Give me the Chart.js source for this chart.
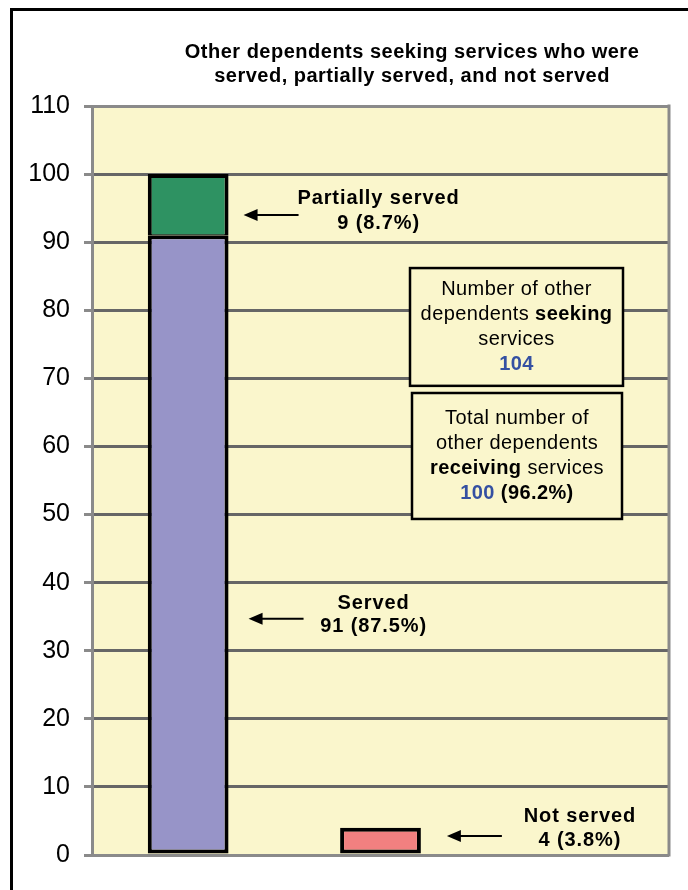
<!DOCTYPE html>
<html>
<head>
<meta charset="utf-8">
<script src="https://cdn.jsdelivr.net/npm/chart.js@4.4.1/dist/chart.umd.min.js"></script>
<style>
  html, body { margin: 0; padding: 0; background: #fff; }
  #frame { position: absolute; left: 10px; top: 8px; width: 720px; height: 920px; border-left: 3px solid #000; border-top: 3px solid #000; }
  #wrap { position: absolute; left: 0; top: 0; width: 688px; height: 890px; }
</style>
</head>
<body>
<div id="frame"></div>
<div id="wrap"><canvas id="chart"></canvas></div>
<script>
// Datos del gráfico
const categories = ['Served / partially served', 'Not served', ''];
const servedValues = [91, null, null];
const partialValues = [9, null, null];
const notServedValues = [null, 4, null];
const yTicks = [0, 10, 20, 30, 40, 50, 60, 70, 80, 90, 100, 110];

const titleLines = [
  'Other dependents seeking services who were',
  'served, partially served, and not served'
];

// Llamadas con flecha: [dataset, índice], valor donde apunta la flecha
const calloutLines = [
  ['Partially served', '9 (8.7%)'],
  ['Served', '91 (87.5%)'],
  ['Not served', '4 (3.8%)']
];
const calloutBars = [[1, 0], [0, 0], [2, 1]];
const calloutValues = [94, 34.7, 2.8];

const seekingTotal = '104';
const receivingTotal = '100';
const receivingPct = '(96.2%)';

// Cajas de texto (rango en valores del eje y)
const boxRanges = [[86.2, 68.9], [67.85, 49.35]];

const COL_BG = '#faf6cc';
const COL_BLUE = '#3450a2';
const FONT = '"Liberation Sans", Arial, sans-serif';

function drawArrow(ctx, xTail, xHead, y) {
  ctx.save();
  ctx.strokeStyle = '#000';
  ctx.fillStyle = '#000';
  ctx.lineWidth = 2;
  ctx.beginPath();
  ctx.moveTo(xTail, y);
  ctx.lineTo(xHead + 10, y);
  ctx.stroke();
  ctx.beginPath();
  ctx.moveTo(xHead, y);
  ctx.lineTo(xHead + 14, y - 6);
  ctx.lineTo(xHead + 14, y + 6);
  ctx.closePath();
  ctx.fill();
  ctx.restore();
}

// Dibuja una línea con segmentos de distinto estilo, centrada en x
function drawRich(ctx, segments, cx, y) {
  let total = 0;
  segments.forEach(s => {
    ctx.font = (s.bold ? 'bold ' : '') + '20px ' + FONT;
    s.w = ctx.measureText(s.t).width;
    total += s.w;
  });
  let x = cx - total / 2;
  segments.forEach(s => {
    ctx.font = (s.bold ? 'bold ' : '') + '20px ' + FONT;
    ctx.fillStyle = s.color || '#000';
    ctx.fillText(s.t, x, y);
    x += s.w;
  });
}

const decorPlugin = {
  id: 'decor',
  beforeDraw(chart) {
    const { ctx, chartArea } = chart;
    ctx.save();
    ctx.fillStyle = COL_BG;
    ctx.fillRect(chartArea.left, chartArea.top, chartArea.right - chartArea.left, chartArea.bottom - chartArea.top);
    ctx.restore();
  },
  afterDraw(chart) {
    const { ctx, chartArea } = chart;
    const y = chart.scales.y;

    // borde derecho del área
    ctx.save();
    ctx.strokeStyle = '#8a8a8a';
    ctx.lineWidth = 3;
    ctx.beginPath();
    ctx.moveTo(chartArea.right, chartArea.top - 1.5);
    ctx.lineTo(chartArea.right, chartArea.bottom + 1.5);
    ctx.stroke();
    ctx.restore();

    ctx.save();
    ctx.textAlign = 'center';
    ctx.textBaseline = 'middle';
    ctx.letterSpacing = '0.5px';

    // Título
    ctx.fillStyle = '#000';
    ctx.font = 'bold 20px ' + FONT;
    const titleX = chartArea.left + 320;
    titleLines.forEach((line, i) => {
      ctx.fillText(line, titleX, 52 + i * 24);
    });

    // Llamadas
    const gaps = [15, 20, 26];
    const textOffsets = [80, 70, 78];
    const dy = [[-16, 9], [-15, 8], [-19, 5]];
    ctx.letterSpacing = '0.9px';
    calloutLines.forEach((lines, i) => {
      const bar = chart.getDatasetMeta(calloutBars[i][0]).data[calloutBars[i][1]];
      const ay = y.getPixelForValue(calloutValues[i]);
      const head = bar.x + bar.width / 2 + gaps[i];
      const tail = head + 55;
      drawArrow(ctx, tail, head, ay);
      ctx.fillStyle = '#000';
      ctx.font = 'bold 20px ' + FONT;
      ctx.fillText(lines[0], tail + textOffsets[i], ay + dy[i][0]);
      ctx.fillText(lines[1], tail + textOffsets[i], ay + dy[i][1]);
    });

    // Cajas
    const boxX = [[chartArea.left + 318, chartArea.left + 531], [chartArea.left + 320, chartArea.left + 530]];
    const boxText = [
      [
        [{ t: 'Number of other' }],
        [{ t: 'dependents ' }, { t: 'seeking', bold: true }],
        [{ t: 'services' }],
        [{ t: seekingTotal, bold: true, color: COL_BLUE }]
      ],
      [
        [{ t: 'Total number of' }],
        [{ t: 'other dependents' }],
        [{ t: 'receiving', bold: true }, { t: ' services' }],
        [{ t: receivingTotal, bold: true, color: COL_BLUE }, { t: ' ' + receivingPct, bold: true }]
      ]
    ];
    ctx.letterSpacing = '0.4px';
    ctx.textAlign = 'left';
    boxRanges.forEach((r, i) => {
      const top = y.getPixelForValue(r[0]);
      const bottom = y.getPixelForValue(r[1]);
      const [l, rr] = boxX[i];
      ctx.fillStyle = COL_BG;
      ctx.fillRect(l, top, rr - l, bottom - top);
      ctx.strokeStyle = '#000';
      ctx.lineWidth = 2.5;
      ctx.strokeRect(l, top, rr - l, bottom - top);
      const cy = (top + bottom) / 2;
      const cx = (l + rr) / 2;
      boxText[i].forEach((segs, k) => {
        drawRich(ctx, segs, cx, cy + (k - 1.5) * 25);
      });
    });
    ctx.restore();
  }
};

const ctx = document.getElementById('chart').getContext('2d');
new Chart(ctx, {
  type: 'bar',
  data: {
    labels: categories,
    datasets: [
      {
        label: 'Served',
        data: servedValues,
        backgroundColor: '#9794c8',
        borderColor: '#000',
        borderWidth: 4,
        borderSkipped: false
      },
      {
        label: 'Partially served',
        data: partialValues,
        backgroundColor: '#2e9262',
        borderColor: '#000',
        borderWidth: { top: 4, left: 4, right: 4, bottom: 1 },
        borderSkipped: false
      },
      {
        label: 'Not served',
        data: notServedValues,
        backgroundColor: '#f28080',
        borderColor: '#000',
        borderWidth: 4,
        borderSkipped: false
      }
    ]
  },
  options: {
    responsive: true,
    maintainAspectRatio: false,
    animation: false,
    categoryPercentage: 1,
    barPercentage: 0.42,
    layout: { padding: { top: 106, bottom: 35, left: 0, right: 19 } },
    plugins: {
      legend: { display: false },
      tooltip: { enabled: false },
      title: { display: false }
    },
    scales: {
      x: { stacked: true, display: false },
      y: {
        stacked: true,
        min: 0,
        max: 110,
        afterBuildTicks: s => { s.ticks = yTicks.map(v => ({ value: v })); },
        afterFit: s => { s.width = 92; },
        ticks: {
          font: { family: FONT, size: 25 },
          color: '#000',
          padding: 14
        },
        grid: {
          color: c => (c.tick && (c.tick.value === 110 || c.tick.value === 0)) ? '#8a8a8a' : '#666666',
          lineWidth: 3,
          tickLength: 8,
          tickColor: '#8a8a8a'
        },
        border: { color: '#8a8a8a', width: 3 }
      }
    }
  },
  plugins: [decorPlugin]
});
</script>
</body>
</html>
